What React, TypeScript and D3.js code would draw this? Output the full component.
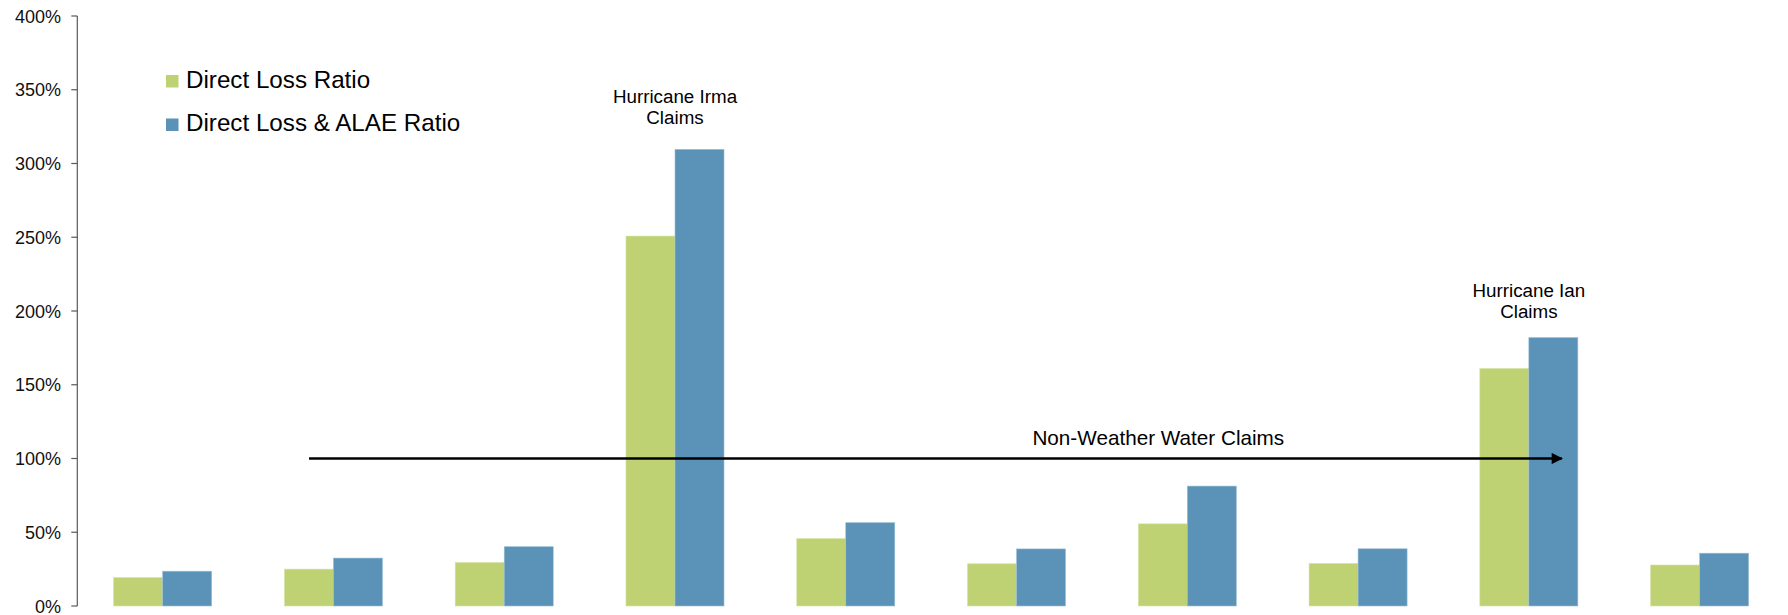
import React from "react";
import * as d3 from "d3";

// Loss ratios by period (percent)
const periods = ["1", "2", "3", "4", "5", "6", "7", "8", "9", "10"];
const directLossRatio = [19.3, 25.0, 29.5, 250.8, 45.7, 28.6, 55.7, 28.9, 161.0, 27.8];
const directLossAlaeRatio = [23.6, 32.5, 40.2, 309.6, 56.5, 38.7, 81.3, 38.8, 182.0, 35.8];
const seriesNames = ["Direct Loss Ratio", "Direct Loss & ALAE Ratio"];
const seriesColors = ["#BED273", "#5B92B7"];
const yTicks = [0, 50, 100, 150, 200, 250, 300, 350, 400];

// Event call-outs: period index + value where the first text line sits
const calloutLines = [
  { period: 3, value: 341, lines: ["Hurricane Irma", "Claims"] },
  { period: 8, value: 209.5, lines: ["Hurricane Ian", "Claims"] },
];
// Arrow spanning periods (fractional band positions), at a ratio level
const arrowSpan = { from: 1.357, to: 8.693, value: 100, label: "Non-Weather Water Claims", labelAt: 6.33, labelValue: 109 };

const W = 1788;
const H = 615;
const M = { left: 77.3, right: 3, top: 16, bottom: 9 };

export default function App() {
  const x = d3
    .scaleBand<string>()
    .domain(periods)
    .range([M.left, W - M.right])
    .paddingInner(0.426)
    .paddingOuter(0.213);
  // continuous band-position scale for annotations
  const bx = d3.scaleLinear().domain([0, periods.length]).range([M.left, W - M.right]);
  const y = d3.scaleLinear().domain([0, 400]).range([H - M.bottom, M.top]);
  const sub = d3.scaleBand<number>().domain([0, 1]).range([0, x.bandwidth()]);
  const series = [directLossRatio, directLossAlaeRatio];
  const font = "'Liberation Sans', Arial, sans-serif";

  return (
    <div style={{ position: "absolute", left: 0, top: 0 }}>
      <svg width={W} height={H} style={{ display: "block", background: "#fff" }} fontFamily={font}>
        <defs>
          <marker id="arrowHead" viewBox="0 0 10 10" refX="9" refY="5" markerWidth="5" markerHeight="4.5" orient="auto" markerUnits="strokeWidth">
            <path d="M0,0 L10,5 L0,10 z" fill="#000" />
          </marker>
        </defs>

        {/* bars */}
        {periods.map((p, i) => (
          <g key={p} transform={`translate(${x(p)},0)`}>
            {series.map((vals, s) => (
              <rect
                key={s}
                x={sub(s)}
                y={y(vals[i])}
                width={sub.bandwidth()}
                height={y(0) - y(vals[i])}
                fill={seriesColors[s]}
                stroke={s === 0 ? "#D6E3A6" : "#9DBFD6"}
                strokeWidth={0.6}
              />
            ))}
          </g>
        ))}

        {/* y axis */}
        <line x1={M.left} x2={M.left} y1={y(400)} y2={y(0)} stroke="#595959" strokeWidth={1.2} />
        {yTicks.map((t) => (
          <g key={t}>
            <line x1={M.left - 6} x2={M.left} y1={y(t)} y2={y(t)} stroke="#595959" strokeWidth={1.2} />
            <text x={61} y={y(t) + 6.5} textAnchor="end" fontSize={18} fill="#111">
              {t}%
            </text>
          </g>
        ))}

        {/* legend */}
        {seriesNames.map((n, i) => (
          <g key={n} transform={`translate(166,${75 + i * 43.5})`}>
            <rect x={0} y={0} width={12.5} height={12.5} fill={seriesColors[i]} />
            <text x={20} y={12.8} fontSize={24.2} fill="#000">
              {n}
            </text>
          </g>
        ))}

        {/* hurricane call-outs */}
        {calloutLines.map((c) => (
          <text key={c.lines[0]} x={(x(periods[c.period]) ?? 0) + x.bandwidth() / 2} y={y(c.value)} textAnchor="middle" fontSize={18.8} fill="#000">
            {c.lines.map((l, k) => (
              <tspan key={k} x={(x(periods[c.period]) ?? 0) + x.bandwidth() / 2} dy={k === 0 ? 0 : 20.8}>
                {l}
              </tspan>
            ))}
          </text>
        ))}

        {/* non-weather water arrow */}
        <line
          x1={bx(arrowSpan.from)}
          x2={bx(arrowSpan.to)}
          y1={y(arrowSpan.value)}
          y2={y(arrowSpan.value)}
          stroke="#000"
          strokeWidth={2.5}
          markerEnd="url(#arrowHead)"
        />
        <text x={bx(arrowSpan.labelAt)} y={y(arrowSpan.labelValue)} textAnchor="middle" fontSize={20.7} fill="#000">
          {arrowSpan.label}
        </text>
      </svg>
    </div>
  );
}
